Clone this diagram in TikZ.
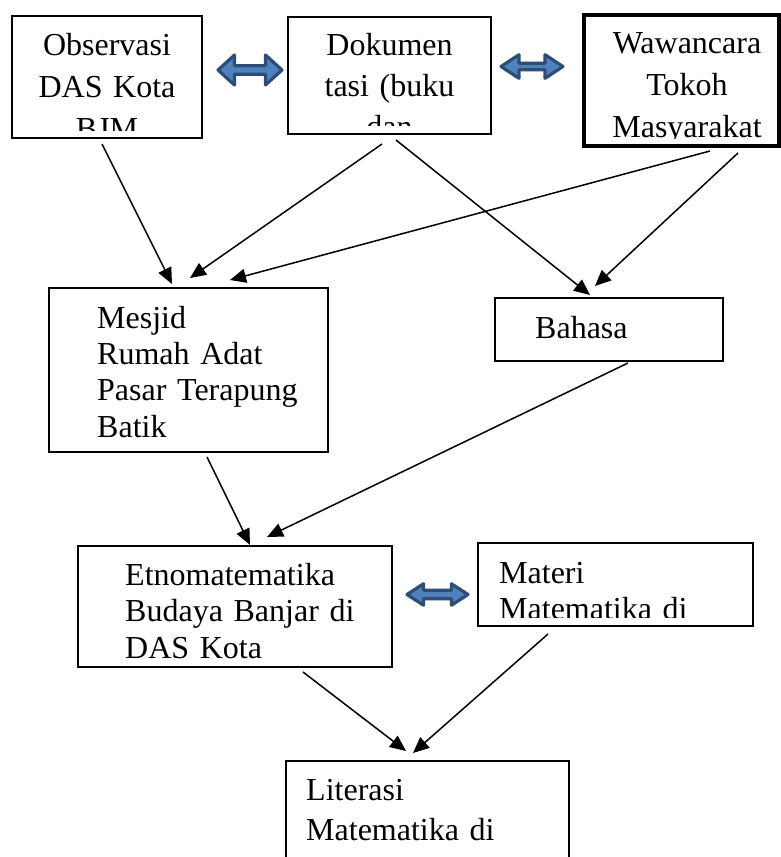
\documentclass[tikz,border=0pt]{standalone}
\usepackage{fontspec}
\setmainfont{Liberation Serif}
\usetikzlibrary{arrows.meta}
\definecolor{panahisi}{HTML}{4F81BD}
\definecolor{panahtepi}{HTML}{2C4D75}

\begin{document}
\begin{tikzpicture}[x=1pt, y=-1pt,
	kotak/.style={draw, line width=1.3pt, inner sep=0pt, outer sep=0pt},
	tengah/.style={inner sep=0pt, anchor=base, align=center, text width=200pt, font=\fontsize{32}{42}\selectfont},
	kiri/.style={inner sep=0pt, anchor=base west, align=left, text width=260pt, font=\fontsize{32}{36.4}\selectfont},
	panah/.style={-{Triangle[length=16pt, width=14pt]}, line width=1.5pt},
	blokpanah/.style={fill=panahisi, draw=panahtepi, line width=3.2pt, line join=round}]
	\useasboundingbox (0,0) rectangle (781,857);
	%\draw[help lines] (0,0) grid[step=50pt] (781,857);
	% kotak
	\node[kotak, minimum width=190pt, minimum height=122pt] (obs) at (107,77) {};
	\node[kotak, minimum width=203pt, minimum height=117pt] (dok) at (389.5,75.5) {};
	\node[kotak, line width=4.5pt, minimum width=195pt, minimum height=131pt] (waw) at (681.5,80.5) {};
	\node[kotak, minimum width=279pt, minimum height=164pt] (mesjid) at (188.5,370) {};
	\node[kotak, minimum width=228pt, minimum height=63pt] (bahasa) at (609,329.5) {};
	\node[kotak, minimum width=314pt, minimum height=121pt] (etno) at (235,606.5) {};
	\node[kotak, minimum width=275pt, minimum height=83pt] (materi) at (615.5,584.5) {};
	\node[kotak, minimum width=283pt, minimum height=139pt] (lit) at (427.5,830.5) {};
	% teks
	\begin{scope}
		\clip (obs.north west) rectangle ([yshift=8pt]obs.south east);
		\node[tengah] (obsteks) at (107,55) {Observasi\\DAS Kota\\BJM};
	\end{scope}
	\begin{scope}
		\clip (dok.north west) rectangle ([yshift=9pt]dok.south east);
		\node[tengah, font=\fontsize{32}{41}\selectfont] (dokteks) at (389.5,55) {Dokumen\\tasi (buku\\dan};
	\end{scope}
	\begin{scope}
		\clip (waw.north west) rectangle ([yshift=8pt]waw.south east);
		\node[tengah] (wawteks) at (687,53) {Wawancara\\Tokoh\\Masyarakat};
	\end{scope}
	\node[kiri] (mesjidteks) at (97,328) {Mesjid\\Rumah Adat\\Pasar Terapung\\Batik};
	\node[kiri] (bahasateks) at (535,338) {Bahasa};
	\node[kiri, font=\fontsize{32}{36.5}\selectfont] (etnoteks) at (125,585) {Etnomatematika\\Budaya Banjar di\\DAS Kota};
	\begin{scope}
		\clip (materi.north west) rectangle ([yshift=9pt]materi.south east);
		\node[kiri, font=\fontsize{32}{36}\selectfont] (materiteks) at (499,583) {Materi\\Matematika di};
	\end{scope}
	\node[kiri, font=\fontsize{32}{40}\selectfont] (litteks) at (306,800) {Literasi\\Matematika di};
	% panah dua arah
	\draw[blokpanah] (218,70) -- (234.5,55) -- (234.5,65.7) -- (265.5,65.7) -- (265.5,55) -- (282,70)
		-- (265.5,85) -- (265.5,74.3) -- (234.5,74.3) -- (234.5,85) -- cycle;
	\draw[blokpanah] (501,66.5) -- (519,54.7) -- (519,63.2) -- (545,63.2) -- (545,54.7) -- (563,66.5)
		-- (545,78.3) -- (545,69.8) -- (519,69.8) -- (519,78.3) -- cycle;
	\draw[blokpanah] (407,594.5) -- (423.5,583.8) -- (423.5,590.3) -- (451.5,590.3) -- (451.5,583.8) -- (468,594.5)
		-- (451.5,605.2) -- (451.5,598.7) -- (423.5,598.7) -- (423.5,605.2) -- cycle;
	% panah
	\draw[panah] ([shift={(-5,6)}]obs.south) -- ([shift={(-16.5,-4)}]mesjid.north);
	\draw[panah] ([shift={(-7.5,10)}]dok.south) -- ([shift={(1.5,-10)}]mesjid.north);
	\draw[panah] ([shift={(28.5,5)}]waw.south) -- ([shift={(41.5,-8)}]mesjid.north);
	\draw[panah] ([shift={(6.5,6)}]dok.south) -- ([shift={(-19,-3)}]bahasa.north);
	\draw[panah] ([shift={(56.5,7)}]waw.south) -- ([shift={(-14,-12)}]bahasa.north);
	\draw[panah] ([shift={(18.5,5)}]mesjid.south) -- ([shift={(15,-1)}]etno.north);
	\draw[panah] ([shift={(19,2)}]bahasa.south) -- ([shift={(32,-9)}]etno.north);
	\draw[panah] ([shift={(68,5)}]etno.south) -- ([shift={(-21.5,-10)}]lit.north);
	\draw[panah] ([shift={(-67.5,8)}]materi.south) -- ([shift={(-14.5,-8)}]lit.north);
\end{tikzpicture}
\end{document}
